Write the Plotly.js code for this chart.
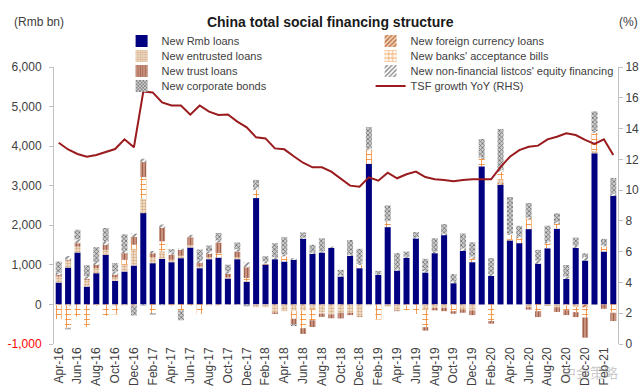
<!DOCTYPE html>
<html>
<head>
<meta charset="utf-8">
<script src="https://cdn.plot.ly/plotly-3.0.1.min.js"></script>
<style>html,body{margin:0;padding:0;background:#fff;}#chart{width:640px;height:392px;}</style>
</head>
<body>
<div id="chart"></div>
<script>
const months = ['Apr-16','May-16','Jun-16','Jul-16','Aug-16','Sep-16','Oct-16','Nov-16','Dec-16',
'Jan-17','Feb-17','Mar-17','Apr-17','May-17','Jun-17','Jul-17','Aug-17','Sep-17','Oct-17','Nov-17','Dec-17',
'Jan-18','Feb-18','Mar-18','Apr-18','May-18','Jun-18','Jul-18','Aug-18','Sep-18','Oct-18','Nov-18','Dec-18',
'Jan-19','Feb-19','Mar-19','Apr-19','May-19','Jun-19','Jul-19','Aug-19','Sep-19','Oct-19','Nov-19','Dec-19',
'Jan-20','Feb-20','Mar-20','Apr-20','May-20','Jun-20','Jul-20','Aug-20','Sep-20','Oct-20','Nov-20','Dec-20',
'Jan-21','Feb-21','Mar-21'];

const rmbLoans = [553,932,1312,451,789,1253,595,831,983,2308,1042,1150,1068,1169,1439,916,1143,1185,654,1143,
570,2688,1008,1143,1084,1127,1660,1278,1312,1430,705,1228,916,3557,747,1954,857,1177,1667,806,
1295,1751,536,1354,1068,3489,722,3025,1616,1549,1903,1030,1420,1915,646,1430,1110,3820,1338,2747];

const fxLoans = [-20,-30,-20,-20,-20,-10,-30,-20,-30,20,0,0,0,0,0,0,-20,-20,-10,-10,
0,0,0,-20,-20,-20,-30,-20,-30,-30,-30,-20,-30,0,-20,-10,-20,-20,-20,-20,
-20,-20,-20,-20,-20,0,0,50,20,0,-10,0,0,0,-20,-20,-80,0,0,0];

const entrustedLoans = [150,170,150,170,125,125,85,170,400,340,150,195,60,60,60,40,50,0,30,50,
20,-70,-70,-180,-150,-140,-130,-100,-180,-220,-180,-190,-270,-20,0,-40,-130,0,0,-105,
-65,-65,0,-105,-130,0,0,80,0,0,-60,0,-40,-70,0,-50,0,60,0,0];

const acceptanceBills = [-350,-560,-290,-550,-20,-280,-220,125,127,550,-220,250,-30,-150,-30,-240,0,110,0,0,
80,210,30,0,130,-200,-440,-280,-20,0,0,0,80,354,-360,143,0,-130,-220,-450,
0,0,-150,0,85,186,-420,200,123,127,250,-170,120,120,-125,-125,-250,460,130,-210];

const trustLoans = [40,30,85,30,85,127,70,170,195,380,100,340,127,150,200,90,85,270,90,144,
270,0,0,-40,0,-135,-145,-170,-85,-100,-145,-60,-20,0,0,0,-20,0,0,-85,
-65,-85,-65,-85,-120,0,-65,0,0,0,-60,-150,0,-120,-125,-125,-510,0,-110,-210];

const equityFinancing = [60,90,100,60,60,85,85,60,85,85,60,85,60,30,60,60,60,50,60,60,
125,50,50,50,50,40,30,30,30,30,30,30,30,30,20,20,30,30,30,40,
40,40,40,60,60,40,50,40,30,40,40,80,50,50,60,60,90,40,30,50];

const corporateBonds = [280,-40,240,280,390,340,210,420,-250,-30,-40,-20,80,-250,0,280,150,190,170,170,
-50,200,130,355,436,-50,130,200,330,0,140,370,380,540,80,385,410,130,130,306,
340,240,190,380,360,466,400,1040,924,271,368,270,400,220,290,200,90,500,160,400];

const tsfGrowth = [13.08,12.64,12.35,12.17,12.28,12.5,12.67,13.3,12.78,16.4,
16.35,15.7,15.5,15.5,14.9,15.5,15.1,14.88,14.92,14.45,
14.08,13.43,13.36,12.71,12.65,12.2,11.78,11.48,11.48,11.2,
10.77,10.29,10.22,10.83,10.61,11.13,10.77,11.03,11.2,10.85,
10.7,10.66,10.57,10.66,10.7,10.7,10.7,11.5,12.17,12.6,
12.82,12.89,13.3,13.47,13.69,13.58,13.26,13.0,13.3,12.28];

const seriesNames = ['New Rmb loans','New foreign currency loans','New entrusted loans',"New banks' acceptance bills",
'New trust loans',"New non-financial listcos' equity financing",'New corporate bonds','TSF growth YoY (RHS)'];

const leftTickVals = [-1000,0,1000,2000,3000,4000,5000,6000];
const leftTickText = ['<span style="color:#ff0000">-1,000</span>','0','1,000','2,000','3,000','4,000','5,000','6,000'];
const rightTickVals = [0,2,4,6,8,10,12,14,16,18];
const xTickVals = months.filter((m,i)=>i%2===0);

const FONT = 'Liberation Sans, Arial, sans-serif';
const legendIds = ['legend','legend','legend2','legend2','legend3','legend3','legend4','legend4'];

function barTrace(k, y, color, pattern){
  const t = {type:'bar', name:seriesNames[k], legend:legendIds[k], x:months, y:y, yaxis:'y',
    marker:{color:color, line:{width:0}}, hoverinfo:'skip'};
  if(pattern) t.marker.pattern = pattern;
  return t;
}

const traces = [
  barTrace(0, rmbLoans, '#000080'),
  barTrace(1, fxLoans, '#f2d3b8', {shape:'/', fgcolor:'#b86a3c', bgcolor:'#f2d3b8', size:4, solidity:0.4}),
  barTrace(2, entrustedLoans, '#f5e8d8', {shape:'.', fgcolor:'#d6ae86', bgcolor:'#f5e8d8', size:3, solidity:0.5}),
  barTrace(3, acceptanceBills, '#ffffff', {shape:'+', fgcolor:'#f0862a', bgcolor:'#ffffff', size:5, solidity:0.3}),
  barTrace(4, trustLoans, '#c48c78', {shape:'|', fgcolor:'#a0634f', bgcolor:'#c8927e', size:3, solidity:0.35}),
  barTrace(5, equityFinancing, '#ffffff', {shape:'/', fgcolor:'#808080', bgcolor:'#ffffff', size:4, solidity:0.4}),
  barTrace(6, corporateBonds, '#c8c8c8', {shape:'x', fgcolor:'#6a6a6a', bgcolor:'#cfcfcf', size:3, solidity:0.45}),
  {type:'scatter', mode:'lines', name:seriesNames[7], legend:legendIds[7], x:months, y:tsfGrowth, yaxis:'y2',
    line:{color:'#991b1e', width:2}, hoverinfo:'skip'}
];

function legendAt(rowY){
  return {orientation:'h', xref:'container', yref:'container', x:0.19, y:1 - rowY/392, xanchor:'left', yanchor:'middle',
    entrywidth:204, entrywidthmode:'pixels', font:{family:FONT, size:11, color:'#404040'},
    bgcolor:'rgba(0,0,0,0)', traceorder:'normal', itemwidth:30};
}

const layout = {
  width:640, height:392,
  margin:{l:54, r:22, t:67, b:48, pad:0, autoexpand:false},
  paper_bgcolor:'#ffffff', plot_bgcolor:'rgba(0,0,0,0)',
  font:{family:FONT, size:12, color:'#404040'},
  barmode:'relative', bargap:0.36,
  showlegend:true,
  title:{text:'<b>China total social financing structure</b>', x:0.516, xanchor:'center', y:1 - 22/392, yanchor:'middle',
    font:{family:FONT, size:14, color:'#1a1a1a'}},
  legend:legendAt(41),
  legend2:legendAt(56),
  legend3:legendAt(71),
  legend4:legendAt(86),
  xaxis:{type:'category', range:[-0.5,59.5], tickvals:xTickVals, ticktext:xTickVals, tickangle:-90,
    showline:false, ticks:'', showgrid:false, zeroline:false, automargin:false,
    tickfont:{family:FONT, size:12, color:'#404040'}},
  yaxis:{range:[-1000,6000], tickvals:leftTickVals, ticktext:leftTickText, showgrid:false, zeroline:false,
    showline:true, linecolor:'#bfbfbf', linewidth:1, ticks:'outside', ticklen:4, tickcolor:'#bfbfbf', automargin:false,
    ticklabelstandoff:5, tickfont:{family:FONT, size:12, color:'#404040'}},
  yaxis2:{range:[0,18], tickvals:rightTickVals, overlaying:'y', side:'right', showgrid:false, zeroline:false,
    showline:true, linecolor:'#bfbfbf', linewidth:1, ticks:'outside', ticklen:4, tickcolor:'#bfbfbf', automargin:false,
    tickfont:{family:FONT, size:12, color:'#404040'}},
  annotations:[
    {text:'(Rmb bn)', xref:'paper', yref:'paper', x:-0.0743, y:(344-22)/277, xanchor:'left', yanchor:'middle', showarrow:false,
      font:{family:FONT, size:12, color:'#404040'}},
    {text:'(%)', xref:'paper', yref:'paper', x:(640-54)/564, y:(344-22)/277, xanchor:'right', yanchor:'middle', showarrow:false,
      font:{family:FONT, size:12, color:'#404040'}},
    {text:'中金策略', xref:'paper', yref:'paper', x:0.95, y:-0.10, xanchor:'center', yanchor:'middle', showarrow:false,
      font:{family:'Noto Sans CJK SC', size:14, color:'rgba(150,150,150,0.5)'}}
  ]
};

Plotly.newPlot('chart', traces, layout, {staticPlot:true, displayModeBar:false});
</script>
</body>
</html>
